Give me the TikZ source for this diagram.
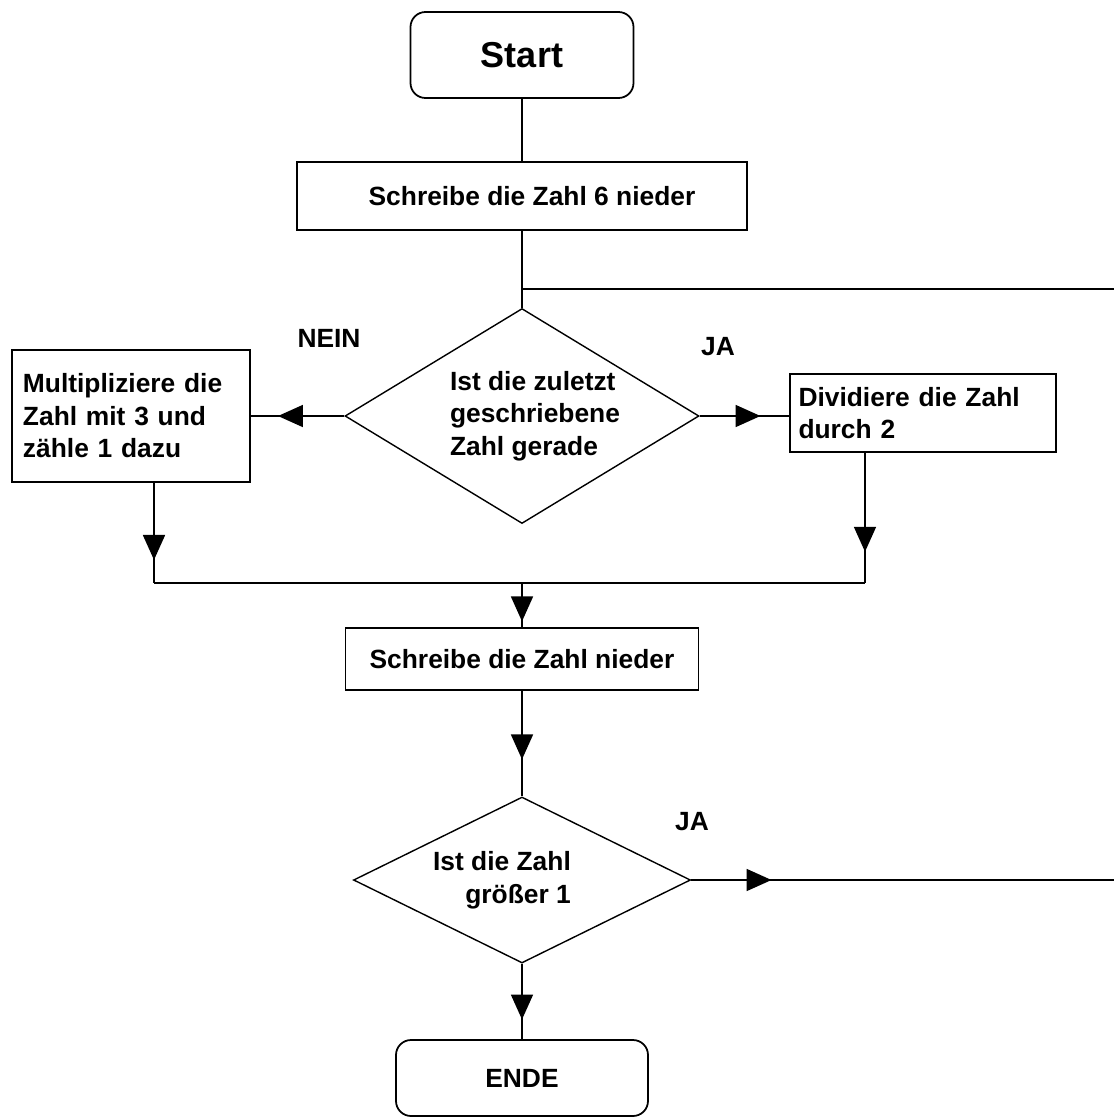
\documentclass[tikz,border=0pt]{standalone}
\usepackage{fontspec}
\setmainfont{Liberation Sans}
\usetikzlibrary{shapes,arrows.meta,positioning,calc,decorations.markings}

\begin{document}
\begin{tikzpicture}[
    box/.style={rectangle, draw, line width=1pt, font=\bfseries\fontsize{15}{18.5}\selectfont},
    endbox/.style={box, rounded corners=0.3cm},
    decision/.style={diamond, draw, line width=0.8pt, inner sep=0pt, font=\bfseries\fontsize{15}{18.5}\selectfont},
    line/.style={line width=1pt},
    midarrow/.style={line, postaction={decorate}, decoration={markings, mark=at position #1 with {\arrow{Triangle[length=0.5cm,width=0.44cm]}}}},
    answer/.style={font=\bfseries\fontsize{15}{18}\selectfont}
]
    \useasboundingbox (0,0) rectangle (22.28,-22.36);

    % Start
    \node[endbox, minimum width=4.46cm, minimum height=1.72cm, font=\bfseries\fontsize{20.5}{24}\selectfont] (start) at (10.44,-1.10) {Start};

    % Steps
    \node[box, minimum width=9cm, minimum height=1.36cm] (write6) at (10.44,-3.92) {\hspace*{0.4cm}Schreibe die Zahl 6 nieder};

    \node[decision, minimum width=7.08cm, minimum height=4.3cm, aspect=1.65, align=left] (even) at (10.44,-8.32) {
        \hspace*{0.52cm}Ist die zuletzt\\
        \hspace*{0.52cm}geschriebene\\
        \hspace*{0.52cm}Zahl gerade
    };

    \node[box, minimum width=4.76cm, minimum height=2.64cm, text width=4.32cm, inner xsep=0.22cm, align=left] (times3) at (2.62,-8.32) {
        Multipliziere die\\
        Zahl mit 3 und\\
        zähle 1 dazu
    };

    \node[box, minimum width=5.32cm, minimum height=1.56cm, text width=4.98cm, inner xsep=0.17cm, align=left] (half) at (18.46,-8.26) {
        Dividiere die Zahl\\
        durch 2
    };

    \node[box, minimum width=7.06cm, minimum height=1.24cm] (write) at (10.44,-13.18) {Schreibe die Zahl nieder};

    \node[decision, minimum width=6.74cm, minimum height=3.32cm, aspect=2.03, align=right] (bigger) at (10.44,-17.6) {
        Ist die Zahl\hspace*{0.8cm}\\
        größer 1\hspace*{0.8cm}
    };

    % Ende
    \node[endbox, minimum width=5.04cm, minimum height=1.52cm] (ende) at (10.44,-21.56) {ENDE};

    % Answers
    \node[answer] (nein) at (6.58,-6.76) {NEIN};
    \node[answer] (ja1) at (14.36,-6.94) {JA};
    \node[answer] (ja2) at (13.84,-16.44) {JA};

    % Junctions
    \coordinate (loopjoin) at (10.44,-5.78);
    \coordinate (loopright) at (22.28,-5.78);
    \coordinate (merge) at (10.44,-11.66);
    \coordinate (exit) at (22.28,-17.6);
    \coordinate (times3out) at ($(times3.south)+(0.46,0)$);
    \coordinate (halfout) at ($(half.south)+(-1.16,0)$);

    % Connectors
    \draw[line] (start) -- (write6);
    \draw[line] (write6) -- (even);
    \draw[line] (loopjoin) -- (loopright);
    \draw[midarrow=0.71] (even.west) -- (times3.east);
    \draw[midarrow=0.68] (even.east) -- (even.east -| half.west);
    \draw[midarrow=0.77] (times3out) -- (times3out |- merge);
    \draw[midarrow=0.76] (halfout) -- (halfout |- merge);
    \draw[line] (times3out |- merge) -- (halfout |- merge);
    \draw[midarrow=0.87] (merge) -- (write);
    \draw[midarrow=0.65] (write) -- (bigger);
    \draw[midarrow=0.19] (bigger.east) -- (exit);
    \draw[midarrow=0.74] (bigger) -- (ende);
\end{tikzpicture}
\end{document}
